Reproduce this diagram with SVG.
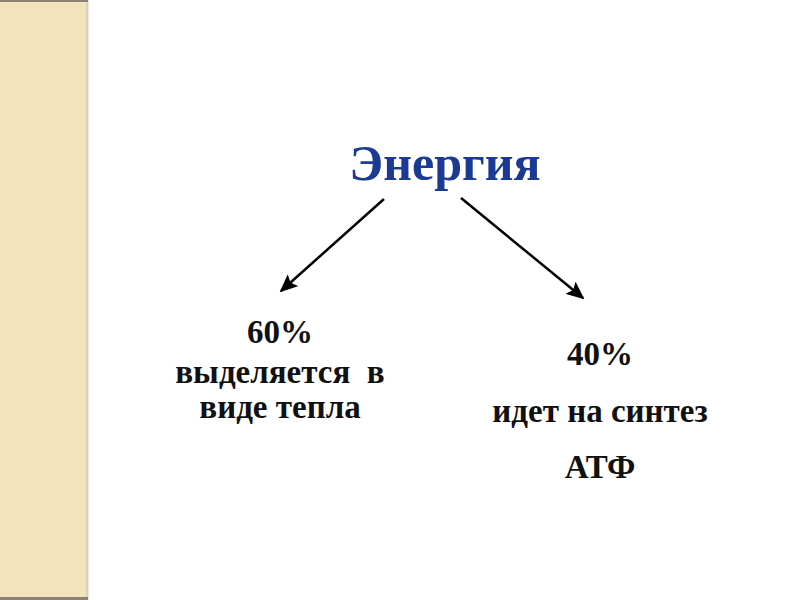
<svg xmlns="http://www.w3.org/2000/svg" width="800" height="600" viewBox="0 0 800 600">
<defs>
<style>
.t{font-family:"Liberation Serif","Times New Roman",serif;font-weight:bold;text-anchor:middle;fill:#111;font-size:33px}
.h{font-family:"Liberation Serif","Times New Roman",serif;font-weight:bold;text-anchor:middle;fill:#1a3a94}
.c{stroke:#000;stroke-width:2.5;fill:none}
</style>
<marker id="ah" viewBox="0 0 10 10" refX="9" refY="5" markerWidth="18" markerHeight="16" markerUnits="userSpaceOnUse" orient="auto" preserveAspectRatio="none">
<path d="M0,0 L10,5 L0,10 L2,5 Z" fill="#000"/>
</marker>
<pattern id="chk" width="4" height="4" patternUnits="userSpaceOnUse">
<rect width="4" height="4" fill="#f4e6be"/>
<rect width="2" height="2" fill="#f1e1b6"/>
<rect x="2" y="2" width="2" height="2" fill="#f1e1b6"/>
</pattern>
</defs>
<rect width="800" height="600" fill="#fff"/>
<g id="band">
<rect x="0" y="0" width="87" height="600" fill="url(#chk)"/>
<rect x="86" y="0" width="2" height="600" fill="#d8d2c2"/>
<rect x="88" y="0" width="1" height="600" fill="#ecebe6"/>
<rect x="0" y="0" width="88" height="2" fill="#8a8376"/>
<rect x="0" y="597" width="88" height="3" fill="#8a8376"/>
</g>
<g id="energy"><text class="h" x="445" y="180" font-size="50">Энергия</text></g>
<g id="heat">
<text class="t" x="280" y="343">60%</text>
<text class="t" x="280" y="383" xml:space="preserve">выделяется  в</text>
<text class="t" x="280" y="418">виде тепла</text>
</g>
<g id="atp">
<text class="t" x="600" y="365">40%</text>
<text class="t" x="600" y="422">идет на синтез</text>
<text class="t" x="600" y="478">АТФ</text>
</g>
<g id="connectors">
<line class="c" x1="384" y1="199" x2="281" y2="291" marker-end="url(#ah)"/>
<line class="c" x1="461" y1="198" x2="583" y2="298" marker-end="url(#ah)"/>
</g>
</svg>
